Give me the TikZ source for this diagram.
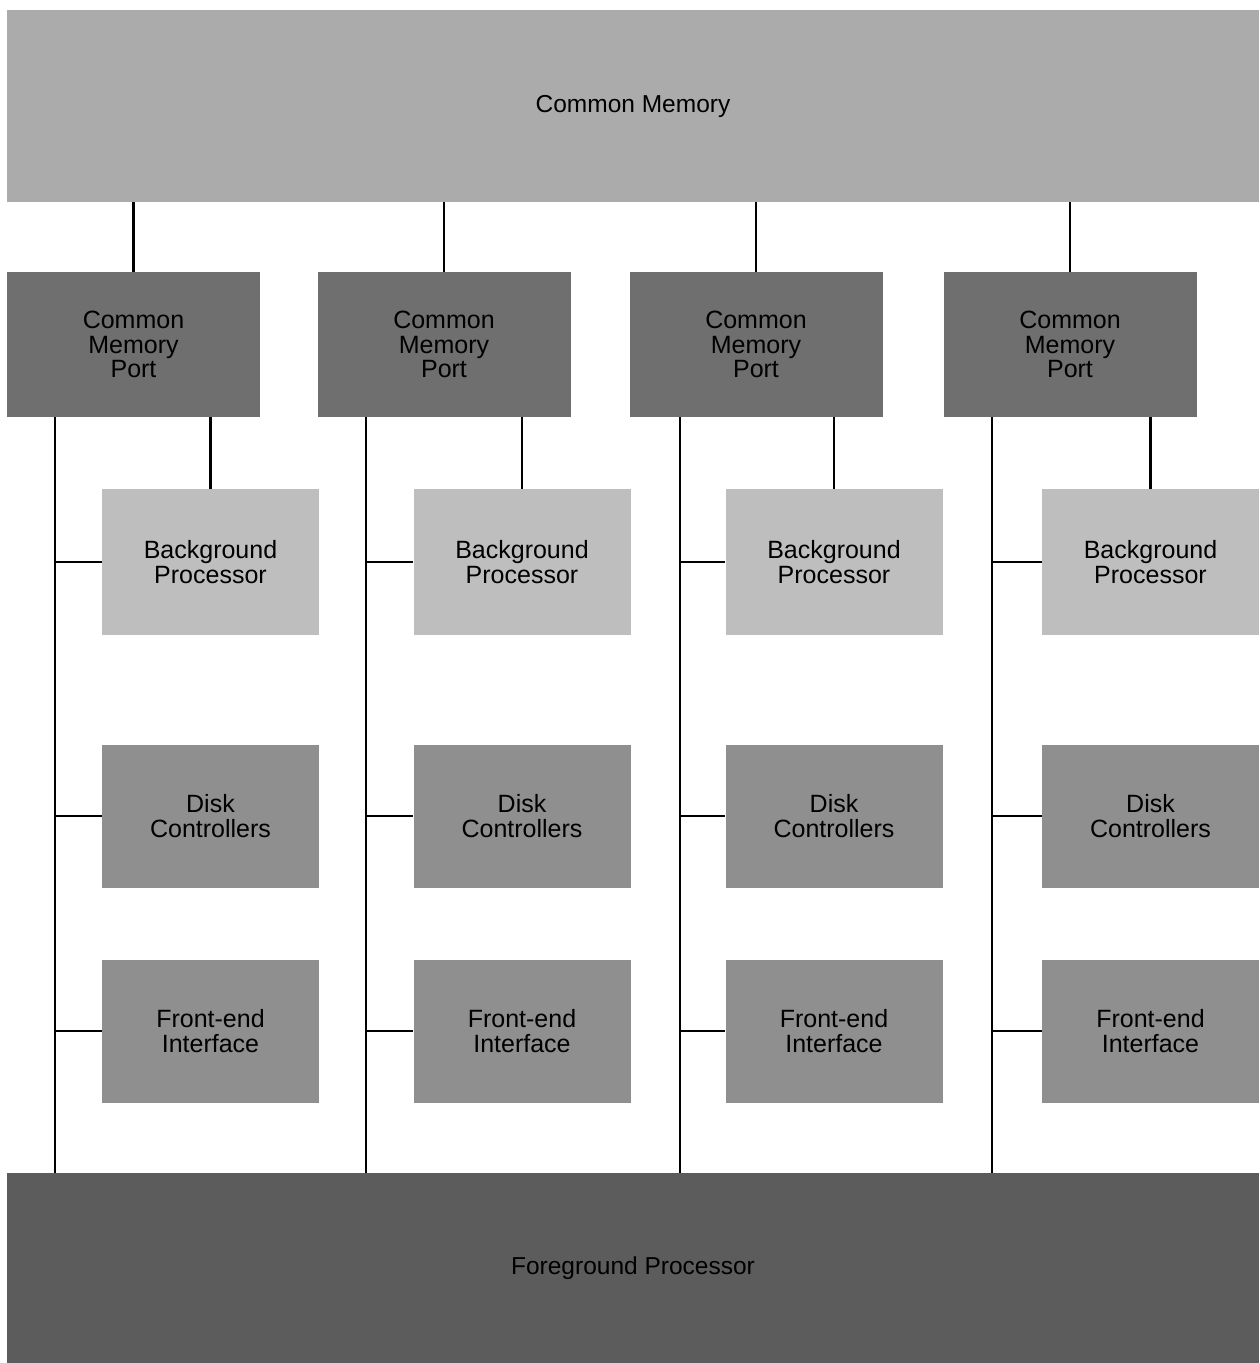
\documentclass[tikz,border=0pt]{standalone}
\usepackage{fontspec}
\setmainfont{Liberation Sans}
\definecolor{memgray}{HTML}{ABABAB}
\definecolor{portgray}{HTML}{6F6F6F}
\definecolor{bggray}{HTML}{BEBEBE}
\definecolor{devgray}{HTML}{8F8F8F}
\definecolor{fggray}{HTML}{5C5C5C}
\begin{document}
\begin{tikzpicture}[x=1pt,y=-1pt,
  unit/.style={rectangle, draw=none, inner sep=0pt, align=center,
    font=\fontsize{25}{24.5}\selectfont, text=black},
  wide/.style={unit, font=\fontsize{24.5}{25}\selectfont,
    minimum width=1252pt, minimum height=192pt},
  port/.style={unit, fill=portgray, minimum width=253pt, minimum height=145pt},
  bgproc/.style={unit, fill=bggray, minimum width=217pt, minimum height=146pt},
  device/.style={unit, fill=devgray, minimum width=217pt, minimum height=143pt},
  link/.style={draw=black, line width=2.6pt}]
  \useasboundingbox (0,0) rectangle (1259,1363);
  \fill[white] (0,0) rectangle (1259,1363);

  % shared memory on top, foreground processor at the bottom
  \node[wide, fill=memgray] (cm) at (633,106) {Common Memory};
  \node[wide, fill=fggray, minimum height=190pt] (fg) at (633,1268) {Foreground Processor};

  % four identical columns: port, bus and the three attached units
  \foreach \i/\px/\bx/\ux in {1/133.5/55/210.5, 2/444/366/522, 3/756/680/834, 4/1070/992/1150.5} {
    \node[port] (cmp\i) at (\px,344.5) {Common\\Memory\\Port};
    \node[bgproc] (bp\i) at (\ux,562) {Background\\Processor};
    \node[device] (dc\i) at (\ux,816) {Disk\\Controllers};
    \node[device] (fe\i) at (\ux,1031) {Front-end\\Interface};
    \coordinate (bus\i) at (\bx,417);

    \draw[link] (cmp\i.north) -- (cmp\i.north |- cm.south);
    \draw[link] (bp\i.north) -- (bp\i.north |- cmp\i.south);
    \draw[link] (bus\i) -- (bus\i |- fg.north);
    \draw[link] (bus\i |- bp\i.west) -- (bp\i.west);
    \draw[link] (bus\i |- dc\i.west) -- (dc\i.west);
    \draw[link] (bus\i |- fe\i.west) -- (fe\i.west);
  }
\end{tikzpicture}
\end{document}
